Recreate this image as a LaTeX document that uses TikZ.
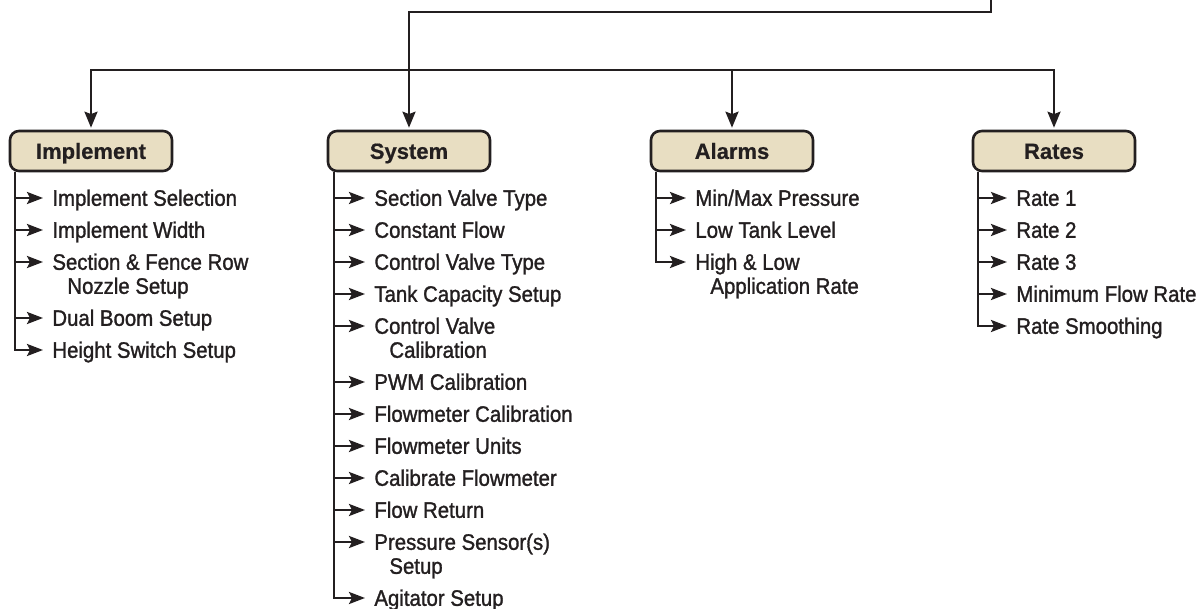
\documentclass[tikz,border=0pt]{standalone}
\usepackage{fontspec}
\setmainfont{Liberation Sans}
\newfontfamily\itemfont{Liberation Sans}[FakeBold=1.3, FakeStretch=0.91]
\newfontfamily\menufont{Liberation Sans Bold}[FakeBold=0.6]
\usetikzlibrary{arrows.meta}
\definecolor{ink}{HTML}{231F20}
\definecolor{tan}{HTML}{E8DEC2}
\tikzstyle{menu} = [rectangle, rounded corners=4.5pt, minimum width=81pt, minimum height=20pt, text height=7.9pt, text depth=0pt, text centered, draw=ink, line width=1.3pt, fill=tan, text=ink, font=\fontsize{11}{13}\menufont]
\tikzstyle{item} = [anchor=west, inner sep=0pt, text height=7.8pt, text depth=0pt, text=ink, font=\fontsize{11.2}{12}\itemfont]
\tikzstyle{arrow} = [line width=1.2pt, draw=ink, -{Stealth[length=8pt,width=6.5pt,inset=1.2pt]}, shorten >=1pt]
\tikzstyle{branch} = [line width=1.2pt, draw=ink, -{Stealth[length=8pt,width=6pt,inset=1.5pt]}, shorten >=4.5pt]
\newcommand{\twoline}[2]{\begin{tabular}[t]{@{}l@{}}#1\\\hspace{7.5pt}#2\end{tabular}}

\begin{document}
\begin{tikzpicture}[x=0.5pt, y=-0.5pt]
\useasboundingbox (0,0) rectangle (1200,609);

\coordinate (top) at (991,0);
\coordinate (bus) at (409,70);

\node (impl) [menu] at (91,151) {Implement};
\node (sys) [menu] at (409,151) {System};
\node (alarm) [menu] at (732,151) {Alarms};
\node (rate) [menu] at (1054,151) {Rates};

\node (impl1) [item] at (52,198) {Implement Selection};
\node (impl2) [item] at (52,230) {Implement Width};
\node (impl3) [item] at (52,262) {\twoline{Section \& Fence Row}{Nozzle Setup}};
\node (impl4) [item] at (52,318) {Dual Boom Setup};
\node (impl5) [item] at (52,350) {Height Switch Setup};

\node (sys1) [item] at (374,198) {Section Valve Type};
\node (sys2) [item] at (374,230) {Constant Flow};
\node (sys3) [item] at (374,262) {Control Valve Type};
\node (sys4) [item] at (374,294) {Tank Capacity Setup};
\node (sys5) [item] at (374,326) {\twoline{Control Valve}{Calibration}};
\node (sys6) [item] at (374,382) {PWM Calibration};
\node (sys7) [item] at (374,414) {Flowmeter Calibration};
\node (sys8) [item] at (374,446) {Flowmeter Units};
\node (sys9) [item] at (374,478) {Calibrate Flowmeter};
\node (sys10) [item] at (374,510) {Flow Return};
\node (sys11) [item] at (374,542) {\twoline{Pressure Sensor(s)}{Setup}};
\node (sys12) [item] at (374,598) {Agitator Setup};

\node (alarm1) [item] at (695,198) {Min/Max Pressure};
\node (alarm2) [item] at (695,230) {Low Tank Level};
\node (alarm3) [item] at (695,262) {\twoline{High \& Low}{Application Rate}};

\node (rate1) [item] at (1016,198) {Rate 1};
\node (rate2) [item] at (1016,230) {Rate 2};
\node (rate3) [item] at (1016,262) {Rate 3};
\node (rate4) [item] at (1016,294) {Minimum Flow Rate};
\node (rate5) [item] at (1016,326) {Rate Smoothing};

\draw [arrow] (top) -- ++(0,12) -| (sys);
\draw [arrow] (bus) -| (impl);
\draw [arrow] (bus) -| (alarm);
\draw [arrow] (bus) -| (rate);

\draw [branch] ([xshift=3pt]impl.south west) |- (impl1);
\draw [branch] ([xshift=3pt]impl.south west) |- (impl2);
\draw [branch] ([xshift=3pt]impl.south west) |- (impl3);
\draw [branch] ([xshift=3pt]impl.south west) |- (impl4);
\draw [branch] ([xshift=3pt]impl.south west) |- (impl5);

\draw [branch] ([xshift=3.5pt]sys.south west) |- (sys1);
\draw [branch] ([xshift=3.5pt]sys.south west) |- (sys2);
\draw [branch] ([xshift=3.5pt]sys.south west) |- (sys3);
\draw [branch] ([xshift=3.5pt]sys.south west) |- (sys4);
\draw [branch] ([xshift=3.5pt]sys.south west) |- (sys5);
\draw [branch] ([xshift=3.5pt]sys.south west) |- (sys6);
\draw [branch] ([xshift=3.5pt]sys.south west) |- (sys7);
\draw [branch] ([xshift=3.5pt]sys.south west) |- (sys8);
\draw [branch] ([xshift=3.5pt]sys.south west) |- (sys9);
\draw [branch] ([xshift=3.5pt]sys.south west) |- (sys10);
\draw [branch] ([xshift=3.5pt]sys.south west) |- (sys11);
\draw [branch] ([xshift=3.5pt]sys.south west) |- (sys12);

\draw [branch] ([xshift=3pt]alarm.south west) |- (alarm1);
\draw [branch] ([xshift=3pt]alarm.south west) |- (alarm2);
\draw [branch] ([xshift=3pt]alarm.south west) |- (alarm3);

\draw [branch] ([xshift=3pt]rate.south west) |- (rate1);
\draw [branch] ([xshift=3pt]rate.south west) |- (rate2);
\draw [branch] ([xshift=3pt]rate.south west) |- (rate3);
\draw [branch] ([xshift=3pt]rate.south west) |- (rate4);
\draw [branch] ([xshift=3pt]rate.south west) |- (rate5);

\end{tikzpicture}
\end{document}
